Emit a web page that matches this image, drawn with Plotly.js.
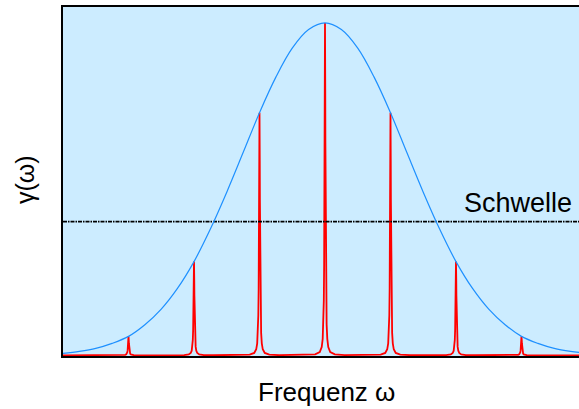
<!DOCTYPE html>
<html>
<head>
<meta charset="utf-8">
<script src="https://cdn.plot.ly/plotly-3.0.1.min.js"></script>
<style>
  html, body { margin: 0; padding: 0; background: #ffffff; overflow: hidden; }
  #chart { width: 579px; height: 409px; }
</style>
</head>
<body>
<div id="chart"></div>
<script>
// Gain envelope γ(ω), sampled along the frequency axis (mode spacing = 1)
const envelopeX = [-4, -3.75, -3.5, -3.25, -3, -2.75, -2.5, -2.25, -2, -1.75, -1.5, -1.25, -1, -0.75, -0.5, -0.25,
                   0, 0.25, 0.5, 0.75, 1, 1.25, 1.5, 1.75, 2, 2.25, 2.5, 2.75, 3, 3.25, 3.5, 3.75, 4];
const envelopeY = [0.006, 0.012, 0.021, 0.036, 0.057, 0.092, 0.139, 0.202, 0.282, 0.380, 0.491, 0.610, 0.730, 0.837, 0.924, 0.980,
                   1.0, 0.980, 0.924, 0.837, 0.730, 0.610, 0.491, 0.380, 0.282, 0.202, 0.139, 0.092, 0.057, 0.036, 0.021, 0.012, 0.006];

// Longitudinal modes: positions and heights
const modeX = [-3, -2, -1, 0, 1, 2, 3];
const modeY = [0.057, 0.282, 0.730, 1.0, 0.730, 0.282, 0.057];

// Threshold level
const thresholdLevel = 0.402;
const thresholdLabel = 'Schwelle';

const xRange = [-4, 3.878];
const yRange = [-0.002, 1.048];

// Narrow line profile for each mode (half width in axis units)
const modeHalfWidth = 0.008;
const profileOffsets = [0, 0.002, 0.004, 0.006, 0.009, 0.013, 0.018, 0.025, 0.035, 0.05, 0.08, 0.15, 0.3];

function buildModeTrace() {
  const xs = [xRange[0]];
  const ys = [0];
  modeX.forEach((c, i) => {
    const h = modeY[i];
    const offs = profileOffsets.slice().reverse().map(o => -o)
      .concat(profileOffsets.slice(1));
    offs.forEach(o => {
      xs.push(c + o);
      ys.push(h * modeHalfWidth * modeHalfWidth / (o * o + modeHalfWidth * modeHalfWidth));
    });
  });
  xs.push(xRange[1]);
  ys.push(0);
  return { x: xs, y: ys };
}

const modes = buildModeTrace();
const fontFamily = 'Arial, "Liberation Sans", Helvetica, sans-serif';

const traces = [
  {
    x: modes.x, y: modes.y,
    type: 'scatter', mode: 'lines',
    line: { color: 'rgb(255,0,0)', width: 1.8 },
    hoverinfo: 'skip', showlegend: false
  },
  {
    x: xRange, y: [thresholdLevel, thresholdLevel],
    type: 'scatter', mode: 'lines',
    line: { color: '#000000', width: 1.8, dash: '4px,1px,1.5px,1px' },
    hoverinfo: 'skip', showlegend: false
  },
  {
    x: envelopeX, y: envelopeY,
    type: 'scatter', mode: 'lines',
    line: { color: 'rgb(30,144,255)', width: 1.2, shape: 'spline', smoothing: 1 },
    hoverinfo: 'skip', showlegend: false
  }
];

const layout = {
  width: 579, height: 409,
  margin: { l: 63, r: 0, t: 7, b: 53, pad: 0 },
  paper_bgcolor: '#ffffff',
  plot_bgcolor: 'rgb(204,236,255)',
  font: { family: fontFamily, color: '#000000' },
  xaxis: {
    range: xRange, showgrid: false, zeroline: false,
    showticklabels: false, ticks: '',
    showline: true, linecolor: '#000000', linewidth: 2, mirror: true
  },
  yaxis: {
    range: yRange, showgrid: false, zeroline: false,
    showticklabels: false, ticks: '',
    showline: true, linecolor: '#000000', linewidth: 2, mirror: false
  },
  annotations: [
    {
      text: thresholdLabel, xref: 'paper', yref: 'y',
      x: 0.99, y: thresholdLevel, xanchor: 'right', yanchor: 'bottom', yshift: 2,
      showarrow: false, font: { family: fontFamily, size: 27, color: '#000000' }
    },
    {
      text: 'Frequenz ω', xref: 'paper', yref: 'paper',
      x: 0.51, y: -0.055, xanchor: 'center', yanchor: 'top',
      showarrow: false, font: { family: fontFamily, size: 26, color: '#000000' }
    },
    {
      text: 'γ(ω)', xref: 'paper', yref: 'paper',
      x: -0.075, y: 0.505, xanchor: 'center', yanchor: 'middle', textangle: -90,
      showarrow: false, font: { family: fontFamily, size: 25, color: '#000000' }
    }
  ]
};

Plotly.newPlot('chart', traces, layout, { staticPlot: true, displayModeBar: false });
</script>
</body>
</html>
